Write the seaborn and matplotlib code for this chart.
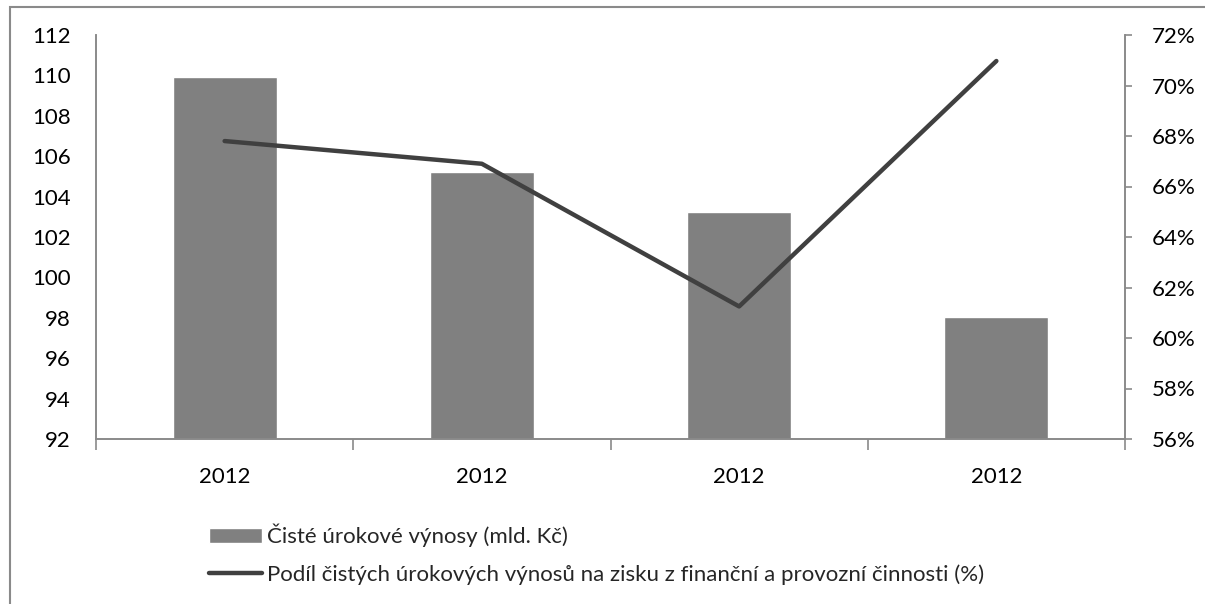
import matplotlib
matplotlib.use("Agg")
import matplotlib.pyplot as plt
from matplotlib.patches import Rectangle
from matplotlib.ticker import FixedLocator, FuncFormatter
import seaborn as sns
import pandas as pd

# data
years = ["2012", "2012", "2012", "2012"]
uroky = [109.9, 105.2, 103.25, 98.05]          # mld. Kč, left axis
podil = [67.8, 66.9, 61.25, 70.97]            # %, right axis

bar_label = "Čisté úrokové výnosy (mld. Kč)"
line_label = "Podíl čistých úrokových výnosů na zisku z finanční a provozní činnosti (%)"

sns.set_theme(style="white")
plt.rcParams['font.family'] = ['Lato', 'DejaVu Sans']

df = pd.DataFrame({"pos": range(len(years)), "uroky": uroky, "podil": podil})

axis_col = "#8a8a8a"
fs = 16

fig = plt.figure(figsize=(12.05, 6.04), dpi=100)
ax = fig.add_axes([96/1205, 1-439/604, (1125-96)/1205, (439-35)/604])

sns.barplot(data=df, x="pos", y="uroky", color="#808080", saturation=1,
            width=0.405, ax=ax, label=bar_label)
if ax.get_legend() is not None:
    ax.get_legend().remove()
ax.set_ylim(92, 112)
ax.set_xlim(-0.5, 3.5)
ax.set_yticks(range(92, 113, 2))
ax.set_xticks(range(len(years)))
ax.set_xticklabels(years)
ax.xaxis.set_minor_locator(FixedLocator([-0.5, 0.5, 1.5, 2.5, 3.5]))
ax.tick_params(axis="x", which="major", length=0, pad=20, labelsize=fs, colors="black")
ax.tick_params(axis="x", which="minor", length=8, width=1.2, color=axis_col, direction="out", bottom=True)
ax.tick_params(axis="y", length=0, pad=18, labelsize=fs, colors="black")
ax.set_xlabel("")
ax.set_ylabel("")

ax2 = ax.twinx()
sns.lineplot(data=df, x="pos", y="podil", color="#404040", linewidth=3.2, ax=ax2,
             label=line_label, legend=False)
ax2.set_ylim(56, 72)
ax2.set_yticks(range(56, 73, 2))
ax2.yaxis.set_major_formatter(FuncFormatter(lambda v, p: f"{int(v)}%"))
ax2.tick_params(axis="y", length=5, width=1.2, direction="out", pad=14,
                labelsize=fs, right=True)
ax2.set_ylabel("")
ax2.set_xlabel("")

for a in (ax, ax2):
    a.spines["top"].set_visible(False)
    for s in ("left", "right", "bottom"):
        a.spines[s].set_color(axis_col)
        a.spines[s].set_linewidth(1.2)
ax2.tick_params(axis="y", color=axis_col, labelcolor="black")

h1, l1 = ax.get_legend_handles_labels()
h2, l2 = ax2.get_legend_handles_labels()
fig.legend(h1 + h2, l1 + l2, loc="upper left", bbox_to_anchor=(200/1205, 1-515/604),
           frameon=False, fontsize=fs, handlelength=2.4, handletextpad=0.2,
           labelspacing=0.75, borderaxespad=0)

fig.add_artist(Rectangle((10/1205, -0.1), 1.2, 1-7/604+0.1, transform=fig.transFigure,
                         fill=False, edgecolor=axis_col, linewidth=1.5))

fig.savefig("out.png", dpi=100)
